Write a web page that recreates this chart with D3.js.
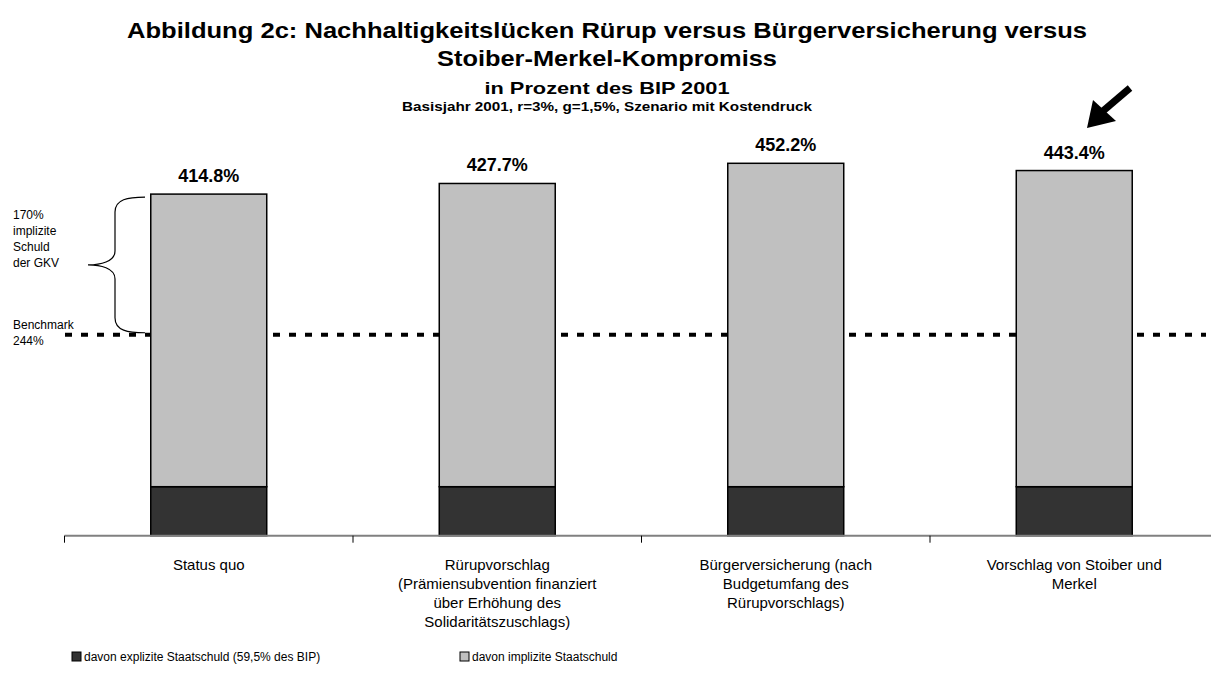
<!DOCTYPE html>
<html>
<head>
<meta charset="utf-8">
<script src="https://cdn.jsdelivr.net/npm/d3@7"></script>
<style>
  body { margin: 0; background: #fff; }
  svg { display: block; font-family: "Liberation Sans", Arial, sans-serif; }
</style>
</head>
<body>
<svg id="chart"></svg>
<script>
const width = 1211;
const height = 690;

// data
const categories = ['Status quo', 'Rürupvorschlag', 'Bürgerversicherung', 'Stoiber-Merkel'];
const categoryLabels = [
    ['Status quo'],
    ['Rürupvorschlag', '(Prämiensubvention finanziert', 'über Erhöhung des', 'Solidaritätszuschlags)'],
    ['Bürgerversicherung (nach', 'Budgetumfang des', 'Rürupvorschlags)'],
    ['Vorschlag von Stoiber und', 'Merkel']
];
const totals = [414.8, 427.7, 452.2, 443.4];
const explicitDebt = [59.5, 59.5, 59.5, 59.5];
const implicitDebt = totals.map((t, i) => t - explicitDebt[i]);
const benchmark = 244;
const seriesNames = ['davon explizite Staatschuld (59,5% des BIP)', 'davon implizite Staatschuld'];
const seriesColors = ['#333333', '#c0c0c0'];

const svg = d3.select('#chart').attr('width', width).attr('height', height);

const baseY = 535.7;
const pxPerPct = 49 / 59.5;
const left = 64.5;
const step = 288.5;

const xScale = d3.scaleBand()
    .domain(categories)
    .range([left, left + step * categories.length])
    .paddingInner(0.598)
    .paddingOuter(0.299);

const yScale = d3.scaleLinear()
    .domain([0, 500])
    .range([baseY, baseY - 500 * pxPerPct]);

// titles (the original font is set wider than ours, so stretch to its width)
const titleLines = [
    { text: 'Abbildung 2c: Nachhaltigkeitslücken Rürup versus Bürgerversicherung versus', y: 38, size: 22, len: 960 },
    { text: 'Stoiber-Merkel-Kompromiss', y: 66, size: 22, len: 340 },
    { text: 'in Prozent des BIP 2001', y: 94, size: 17, len: 245 },
    { text: 'Basisjahr 2001, r=3%, g=1,5%, Szenario mit Kostendruck', y: 111, size: 12, len: 410 }
];
svg.append('g').attr('text-anchor', 'middle').attr('font-weight', 'bold')
    .selectAll('text')
    .data(titleLines)
    .join('text')
    .attr('x', 607)
    .attr('y', d => d.y)
    .attr('font-size', d => d.size)
    .attr('textLength', d => d.len)
    .attr('lengthAdjust', 'spacingAndGlyphs')
    .text(d => d.text);

// benchmark dotted line (behind bars)
svg.append('line')
    .attr('x1', 65).attr('x2', 1206)
    .attr('y1', yScale(benchmark)).attr('y2', yScale(benchmark))
    .attr('stroke', '#000').attr('stroke-width', 4)
    .attr('stroke-dasharray', '7 9');

// stacked bars
const stackData = categories.map((c, i) => ({ cat: c, explicit: explicitDebt[i], implicit: implicitDebt[i] }));
const stack = d3.stack().keys(['explicit', 'implicit'])(stackData);

svg.append('g').selectAll('g')
    .data(stack)
    .join('g')
    .attr('fill', (d, i) => seriesColors[i])
    .selectAll('rect')
    .data(d => d)
    .join('rect')
    .attr('x', d => xScale(d.data.cat))
    .attr('y', d => yScale(d[1]))
    .attr('width', xScale.bandwidth())
    .attr('height', d => yScale(d[0]) - yScale(d[1]))
    .attr('stroke', '#000')
    .attr('stroke-width', 1.5);

// value labels
svg.append('g').selectAll('text')
    .data(categories)
    .join('text')
    .attr('x', d => xScale(d) + xScale.bandwidth() / 2)
    .attr('y', (d, i) => yScale(totals[i]) - 12)
    .attr('text-anchor', 'middle')
    .attr('font-weight', 'bold')
    .attr('font-size', 18)
    .text((d, i) => totals[i].toFixed(1) + '%');

// x axis
svg.append('line')
    .attr('x1', left).attr('x2', width)
    .attr('y1', baseY).attr('y2', baseY)
    .attr('stroke', '#808080').attr('stroke-width', 2);
svg.append('g').selectAll('line')
    .data(d3.range(categories.length))
    .join('line')
    .attr('x1', i => left + i * step).attr('x2', i => left + i * step)
    .attr('y1', baseY).attr('y2', baseY + 7)
    .attr('stroke', '#000').attr('stroke-width', 1);

const xl = svg.append('g').attr('text-anchor', 'middle').attr('font-size', 15);
categories.forEach((c, i) => {
    const t = xl.append('text')
        .attr('x', xScale(c) + xScale.bandwidth() / 2)
        .attr('y', 570);
    categoryLabels[i].forEach((line, j) => {
        t.append('tspan')
            .attr('x', xScale(c) + xScale.bandwidth() / 2)
            .attr('dy', j === 0 ? 0 : 19)
            .text(line);
    });
});

// left annotations
const ann = svg.append('g').attr('font-size', 12).attr('fill', '#000');
['170%', 'implizite', 'Schuld', 'der GKV'].forEach((s, j) => {
    ann.append('text').attr('x', 13).attr('y', 219 + j * 16).text(s);
});
ann.append('text').attr('x', 13).attr('y', 329).text('Benchmark');
ann.append('text').attr('x', 13).attr('y', 345).text('244%');

// curly brace
const bTop = yScale(totals[0]) + 3;
const bBot = yScale(benchmark) - 2;
const bMid = (bTop + bBot) / 2;
svg.append('path')
    .attr('d', `M145,${bTop} C128,${bTop} 115,${bTop + 2} 115,${bTop + 15}
        L115,${bMid - 14} C115,${bMid - 3} 100,${bMid} 88,${bMid}
        C100,${bMid} 115,${bMid + 3} 115,${bMid + 14}
        L115,${bBot - 15} C115,${bBot - 2} 128,${bBot} 145,${bBot}`)
    .attr('fill', 'none').attr('stroke', '#000').attr('stroke-width', 1.2);

// arrow
svg.append('line')
    .attr('x1', 1130).attr('y1', 88).attr('x2', 1103).attr('y2', 111)
    .attr('stroke', '#000').attr('stroke-width', 7);
svg.append('path')
    .attr('d', 'M1087,128 L1093,100 L1116,121 Z')
    .attr('fill', '#000');

// legend
const legend = svg.append('g').attr('font-size', 12);
[72, 460].forEach((lx, i) => {
    legend.append('rect')
        .attr('x', lx).attr('y', 652).attr('width', 9).attr('height', 9)
        .attr('fill', seriesColors[i]).attr('stroke', '#000').attr('stroke-width', 1);
    legend.append('text').attr('x', lx + 12).attr('y', 661).text(seriesNames[i]);
});
</script>
</body>
</html>
